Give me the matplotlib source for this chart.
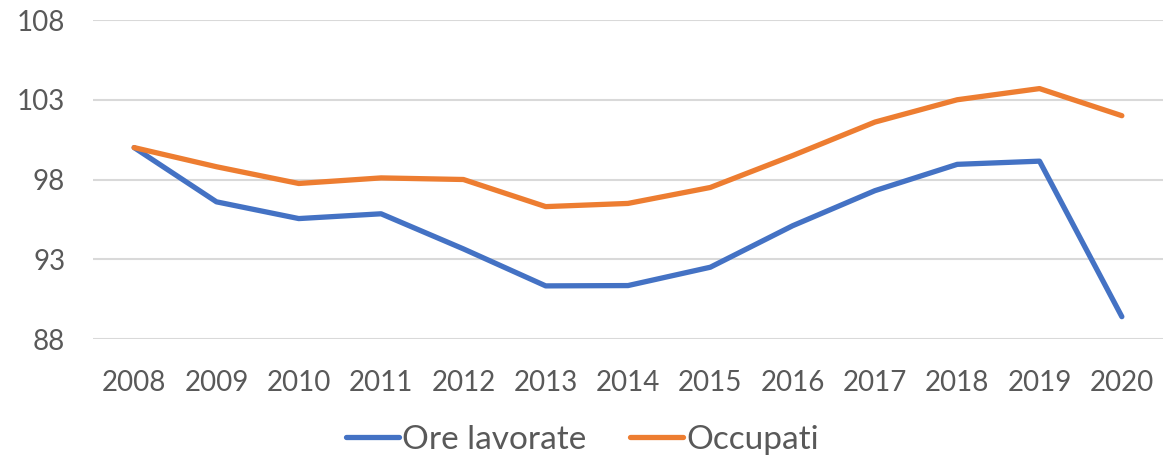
import matplotlib.pyplot as plt

# data
anni = ['2008', '2009', '2010', '2011', '2012', '2013', '2014',
        '2015', '2016', '2017', '2018', '2019', '2020']
ore_lavorate = [100.0, 96.6, 95.55, 95.85, 93.65, 91.33, 91.35,
                92.5, 95.1, 97.3, 98.95, 99.15, 89.4]
occupati = [100.0, 98.8, 97.75, 98.1, 98.0, 96.3, 96.5,
            97.5, 99.5, 101.6, 103.0, 103.7, 102.0]
y_ticks = [88, 93, 98, 103, 108]

plt.rcParams['font.family'] = ['Lato', 'DejaVu Sans']
grigio = '#595959'

fig = plt.figure(figsize=(11.65, 4.65), dpi=100)
ax = fig.add_axes([93/1165, 1 - 339/465, (1163 - 93)/1165, (339 - 20)/465])

x = range(len(anni))
ax.plot(x, ore_lavorate, color='#4472C4', lw=3.8, solid_capstyle='round',
        solid_joinstyle='round', label='Ore lavorate', zorder=3)
ax.plot(x, occupati, color='#ED7D31', lw=3.8, solid_capstyle='round',
        solid_joinstyle='round', label='Occupati', zorder=3)

ax.set_xlim(-0.5, len(anni) - 0.5)
ax.set_ylim(88, 108)
ax.set_yticks(y_ticks)
ax.set_xticks(list(x))
ax.set_xticklabels(anni)
ax.yaxis.grid(True, color='#D9D9D9', lw=1.5)
ax.set_axisbelow(True)
for s in ax.spines.values():
    s.set_visible(False)
ax.tick_params(length=0, labelsize=20, colors=grigio)
ax.tick_params(axis='x', pad=22)
ax.tick_params(axis='y', pad=20)

leg = fig.legend(loc='center', bbox_to_anchor=(0.5, 1 - 440/465), ncol=2,
                 frameon=False, fontsize=24, handlelength=1.6,
                 handletextpad=0.1, columnspacing=1.3)
for t in leg.get_texts():
    t.set_color(grigio)

plt.savefig('out.png', dpi=100)
